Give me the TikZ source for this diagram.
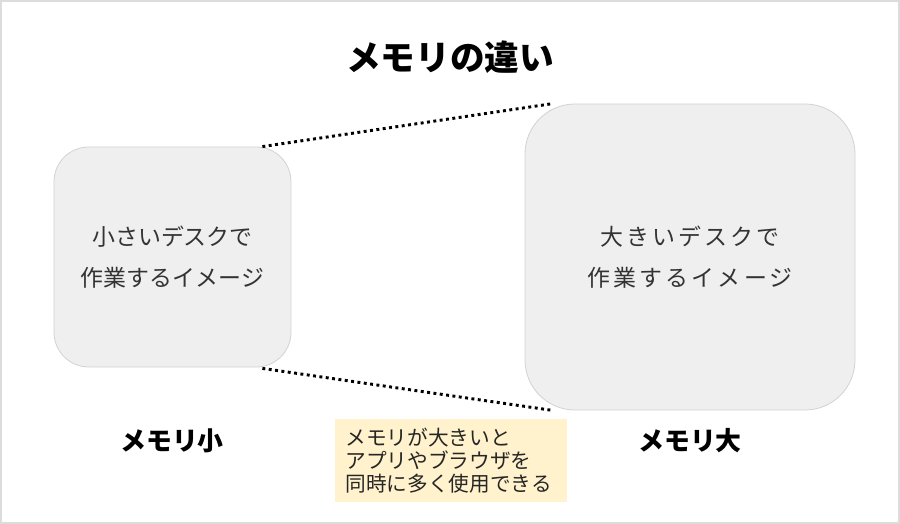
\documentclass[tikz,border=0pt]{standalone}
\usepackage{fontspec}
\setmainfont{Noto Sans CJK JP}
\usetikzlibrary{positioning, calc}
\definecolor{deskfill}{HTML}{EFEFEF}
\definecolor{deskline}{HTML}{D2D2D2}
\definecolor{notefill}{HTML}{FFF2CC}
\definecolor{framegray}{HTML}{DCDCDC}
\definecolor{textgray}{HTML}{333333}

\begin{document}
\begin{tikzpicture}[x=0.75pt, y=-0.75pt,
  desk/.style={draw=deskline, fill=deskfill, line width=0.6pt, text=textgray,
    align=center, font=\fontsize{17.2}{30.5}\selectfont},
  label/.style={font=\fontsize{19.4}{21}\selectfont\bfseries},
  link/.style={line width=2.2pt, dash pattern=on 2.2pt off 2.6pt},
  note/.style={fill=notefill, text=black!85, align=left, text width=157.5pt,
    inner xsep=8.25pt, minimum height=62.25pt, font=\fontsize{15.5}{17.25}\selectfont}
]
  \useasboundingbox (0,0) rectangle (900,524);
  % frame
  \draw[framegray, line width=1.5pt] (1,1) rectangle (899,523);

  % title
  \node[font=\fontsize{26}{28}\selectfont\bfseries] (title) at (450,57) {メモリの違い};

  % small desk
  \node[desk, minimum width=177.75pt, minimum height=165pt, rounded corners=26pt]
    (small) at (172.5,257) {小さいデスクで\\作業するイメージ};
  \node[label] (smalllabel) at (172,441) {メモリ小};

  % big desk
  \node[desk, minimum width=247.5pt, minimum height=229.5pt, rounded corners=37.5pt]
    (big) at (690,257) {\addfontfeature{LetterSpace=14}大きいデスクで\\
      \addfontfeature{LetterSpace=14}作業するイメージ};
  \node[label] (biglabel) at (690,441) {メモリ大};

  % zoom lines
  \draw[link] ($(small.north east)+(-29,0)$) -- ($(big.north west)+(28,0)$);
  \draw[link] ($(small.south east)+(-29,1)$) -- ($(big.south west)+(28,0)$);

  % note
  \node[note] (memnote) at (450.5,460.5) {メモリが大きいと\\アプリやブラウザを\\同時に多く使用できる};
\end{tikzpicture}
\end{document}
